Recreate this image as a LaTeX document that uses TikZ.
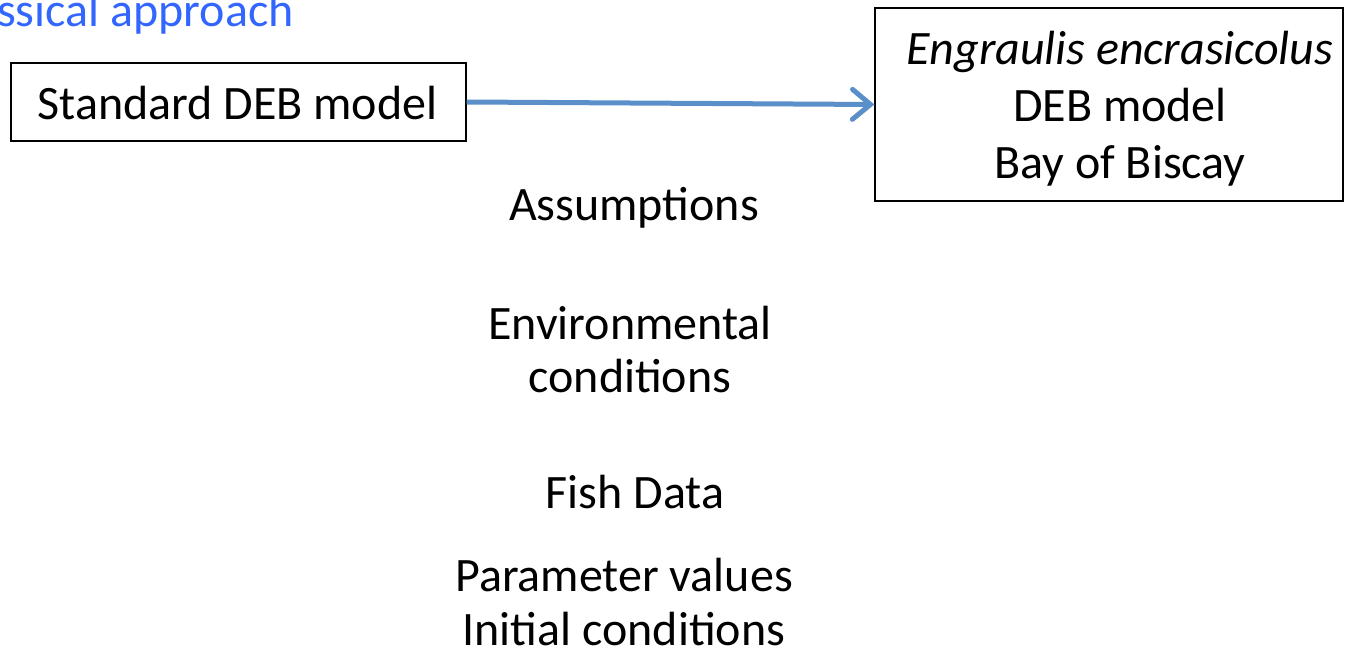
\documentclass[tikz,border=0pt]{standalone}
\usepackage{fontspec}
\setmainfont{Carlito}
\usetikzlibrary{arrows.meta}
\definecolor{titleblue}{RGB}{51,102,255}
\definecolor{arrowblue}{RGB}{91,143,201}
\begin{document}
\begin{tikzpicture}[x=1pt,y=-1pt,
  box/.style={draw=black,line width=1.3pt,inner sep=0pt,fill=white},
  lbl/.style={font=\fontsize{48}{54}\selectfont,align=center,inner sep=0pt,anchor=base},
  conn/.style={draw=arrowblue,line width=5pt,-{Straight Barb[length=18pt,width=30pt,line cap=round]}}
]
\useasboundingbox (0,0) rectangle (1345,652);
\node[box,minimum width=455pt,minimum height=78pt] (std) at (238.5,102) {};
\node[lbl] (stdt) at (237.5,120) {Standard DEB model};
\node[box,minimum width=468pt,minimum height=193pt] (eng) at (1109,104.5) {};
\node[lbl,font=\fontsize{48}{57}\selectfont] (engt) at (1120,179) {\textit{Engraulis encrasicolus}\\DEB model\\Bay of Biscay};
\node[lbl,text=titleblue,anchor=base west] (title) at (-3,27) {ssical approach};
\draw[conn] (std.east) -- (eng.west);
\node[lbl] (assump) at (634,221) {Assumptions};
\node[lbl] (env) at (630,393) {Environmental\\conditions};
\node[lbl] (fish) at (635,508) {Fish Data};
\node[lbl] (param) at (624,645) {Parameter values\\Initial conditions};
\end{tikzpicture}
\end{document}
